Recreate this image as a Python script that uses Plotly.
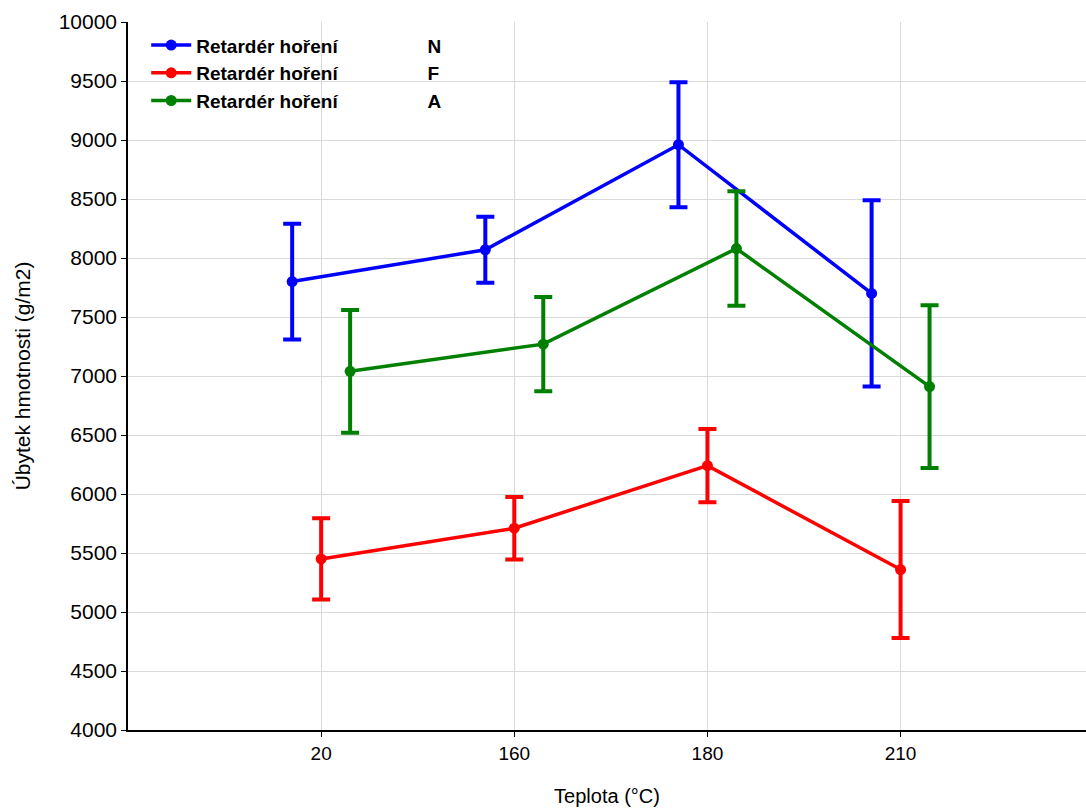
import plotly.graph_objects as go

categories = ["20", "160", "180", "210"]
series_names = ["N", "F", "A"]
n_vals = [7800, 8070, 8960, 7700]
n_err = [490, 280, 530, 790]
f_vals = [5450, 5710, 6240, 5360]
f_err = [345, 265, 310, 580]
a_vals = [7040, 7270, 8080, 6910]
a_err = [520, 400, 485, 690]

colors = {"N": "#0000ff", "F": "#ff0000", "A": "#008000"}
offsets = {"N": -0.15, "F": 0.0, "A": 0.15}
data = {"N": (n_vals, n_err), "F": (f_vals, f_err), "A": (a_vals, a_err)}

fig = go.Figure()
gap = "\u00a0" * 17
for name in series_names:
    vals, errs = data[name]
    xs = [i + offsets[name] for i in range(len(categories))]
    fig.add_trace(go.Scatter(
        x=xs, y=vals, mode="lines+markers",
        name=f"Retardér hoření{gap}{name}",
        line=dict(color=colors[name], width=3.5),
        marker=dict(color=colors[name], size=11),
        error_y=dict(type="data", array=errs, visible=True,
                     color=colors[name], thickness=4, width=9),
    ))

fig.update_layout(
    width=1086, height=808,
    margin=dict(l=128, r=0, t=22, b=78),
    paper_bgcolor="white", plot_bgcolor="white",
    font=dict(family="Liberation Sans, Arial, sans-serif", color="black"),
    showlegend=True,
    legend=dict(x=0.019, y=0.994, xanchor="left", yanchor="top",
                bgcolor="rgba(0,0,0,0)",
                font=dict(size=19, family="Liberation Sans, Arial", weight="bold"),
                itemwidth=40, tracegroupgap=0),
)
fig.update_xaxes(
    range=[-1, 3.96], tickvals=list(range(len(categories))), ticktext=categories,
    showgrid=True, gridcolor="#d9d9d9", gridwidth=1,
    showline=True, linecolor="black", linewidth=1.5,
    ticks="outside", ticklen=5, tickcolor="black",
    tickfont=dict(size=19, family="Liberation Sans Narrow, Arial Narrow, Liberation Sans"),
    title=dict(text="Teplota (°C)", standoff=26,
               font=dict(size=20, family="Liberation Sans Narrow, Arial Narrow, Liberation Sans")),
    zeroline=False, automargin=False,
)
fig.update_yaxes(
    range=[4000, 10000], dtick=500, tickformat="d",
    showgrid=True, gridcolor="#d9d9d9", gridwidth=1,
    showline=True, linecolor="black", linewidth=1.5,
    ticks="outside", ticklen=5, tickcolor="black",
    tickfont=dict(size=21, family="Liberation Sans, Arial"),
    title=dict(text="Úbytek hmotnosti (g/m2)", standoff=22,
               font=dict(size=21, family="Liberation Sans Narrow, Arial Narrow, Liberation Sans")),
    zeroline=False, automargin=False,
)

fig.write_html("out.html",
               config={"displayModeBar": False},
               post_script="document.body.style.margin='0';document.body.style.overflow='hidden';")
